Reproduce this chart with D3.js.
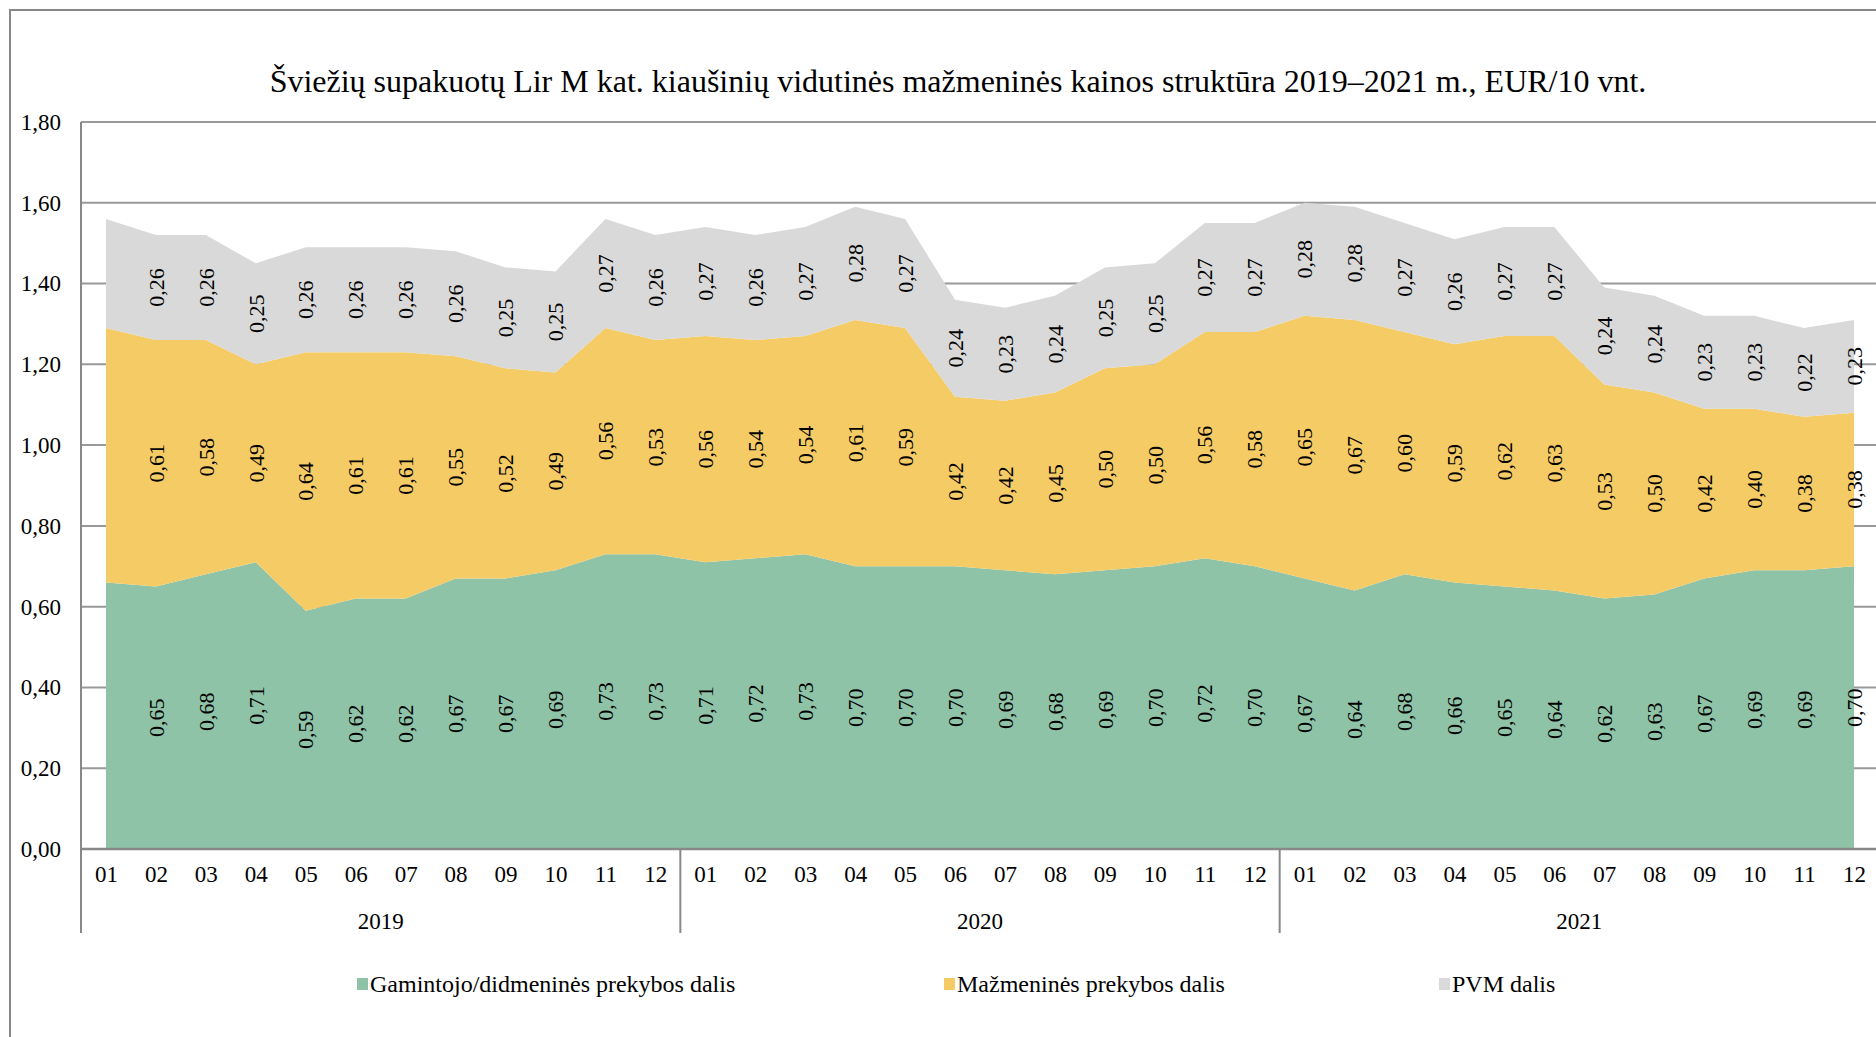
<!DOCTYPE html>
<html>
<head>
<meta charset="utf-8">
<script src="https://cdn.jsdelivr.net/npm/d3@7"></script>
<style>
  body { margin: 0; background: #fff; }
  text { font-family: "Liberation Serif", "Times New Roman", serif; fill: #000; }
</style>
</head>
<body>
<div id="chart"></div>
<script>
// values (EUR/10 vnt.)
var years = ["2019", "2020", "2021"];
var months = ["01", "02", "03", "04", "05", "06", "07", "08", "09", "10", "11", "12"];

var gamintojo = [0.66, 0.65, 0.68, 0.71, 0.59, 0.62, 0.62, 0.67, 0.67, 0.69, 0.73, 0.73,
                 0.71, 0.72, 0.73, 0.70, 0.70, 0.70, 0.69, 0.68, 0.69, 0.70, 0.72, 0.70,
                 0.67, 0.64, 0.68, 0.66, 0.65, 0.64, 0.62, 0.63, 0.67, 0.69, 0.69, 0.70];
var mazmenines = [0.63, 0.61, 0.58, 0.49, 0.64, 0.61, 0.61, 0.55, 0.52, 0.49, 0.56, 0.53,
                  0.56, 0.54, 0.54, 0.61, 0.59, 0.42, 0.42, 0.45, 0.50, 0.50, 0.56, 0.58,
                  0.65, 0.67, 0.60, 0.59, 0.62, 0.63, 0.53, 0.50, 0.42, 0.40, 0.38, 0.38];
var pvm = [0.27, 0.26, 0.26, 0.25, 0.26, 0.26, 0.26, 0.26, 0.25, 0.25, 0.27, 0.26,
           0.27, 0.26, 0.27, 0.28, 0.27, 0.24, 0.23, 0.24, 0.25, 0.25, 0.27, 0.27,
           0.28, 0.28, 0.27, 0.26, 0.27, 0.27, 0.24, 0.24, 0.23, 0.23, 0.22, 0.23];

var seriesNames = ["Gamintojo/didmeninės prekybos dalis", "Mažmeninės prekybos dalis", "PVM dalis"];
var seriesColors = ["#8fc3a8", "#f5cb66", "#d9d9d9"];
var yTicks = [0, 0.2, 0.4, 0.6, 0.8, 1.0, 1.2, 1.4, 1.6, 1.8];

function draw() {
    var W = 1876, H = 1037;
    var mLeft = 81, mRight = 1879, mTop = 122, mBottom = 849, sepBottom = 933;

    var data = [];
    for (var i = 0; i < gamintojo.length; i++) {
        data.push({i: i, a: gamintojo[i], b: mazmenines[i], c: pvm[i]});
    }

    var svg = d3.select("#chart").append("svg")
        .attr("width", W)
        .attr("height", H);

    var fmt = function (v) { return d3.format(".2f")(v).replace(".", ","); };

    var x = d3.scalePoint()
        .domain(d3.range(data.length))
        .range([mLeft, mRight])
        .padding(0.5);
    var step = x.step();

    var y = d3.scaleLinear()
        .domain([0, 1.8])
        .range([mBottom, mTop]);

    // outer frame
    svg.append("rect")
        .attr("x", 10).attr("y", 10)
        .attr("width", 1900).attr("height", 1100)
        .attr("fill", "none")
        .attr("stroke", "#888")
        .attr("stroke-width", 2);

    // title
    svg.append("text")
        .attr("x", 958)
        .attr("y", 92)
        .attr("text-anchor", "middle")
        .style("font-size", "32px")
        .text("Šviežių supakuotų Lir M kat. kiaušinių vidutinės mažmeninės kainos struktūra 2019–2021 m., EUR/10 vnt.");

    // gridlines
    svg.append("g")
        .selectAll("line")
        .data(yTicks.slice(1))
        .enter().append("line")
        .attr("x1", mLeft).attr("x2", mRight)
        .attr("y1", function (d) { return y(d); })
        .attr("y2", function (d) { return y(d); })
        .attr("stroke", "#999")
        .attr("stroke-width", 2);

    // stacked areas
    var stack = d3.stack().keys(["a", "b", "c"]);
    var layers = stack(data);

    var area = d3.area()
        .x(function (d) { return x(d.data.i); })
        .y0(function (d) { return y(d[0]); })
        .y1(function (d) { return y(d[1]); });

    svg.append("g")
        .selectAll("path")
        .data(layers)
        .enter().append("path")
        .attr("d", area)
        .attr("fill", function (d, i) { return seriesColors[i]; });

    // data labels (first month has none in the original)
    layers.forEach(function (layer) {
        svg.append("g")
            .selectAll("text")
            .data(layer.slice(1))
            .enter().append("text")
            .attr("transform", function (d) {
                return "translate(" + x(d.data.i) + "," + y((d[0] + d[1]) / 2) + ") rotate(-90)";
            })
            .attr("text-anchor", "middle")
            .attr("dy", "0.35em")
            .style("font-size", "22px")
            .text(function (d) { return fmt(d[1] - d[0]); });
    });

    // y axis
    var yAxis = d3.axisLeft(y)
        .tickValues(yTicks)
        .tickSize(0)
        .tickPadding(20)
        .tickFormat(fmt);
    var gy = svg.append("g")
        .attr("transform", "translate(" + mLeft + ",0)")
        .call(yAxis);
    gy.select(".domain").remove();
    gy.selectAll("text")
        .style("font-family", "Liberation Serif, serif")
        .style("font-size", "23px");

    // axis lines
    svg.append("line")
        .attr("x1", mLeft).attr("x2", mLeft)
        .attr("y1", mTop).attr("y2", sepBottom)
        .attr("stroke", "#888").attr("stroke-width", 2);
    svg.append("line")
        .attr("x1", mLeft).attr("x2", mRight)
        .attr("y1", mBottom).attr("y2", mBottom)
        .attr("stroke", "#888").attr("stroke-width", 2.5);

    // month labels
    var xAxis = d3.axisBottom(x)
        .tickSize(0)
        .tickPadding(17)
        .tickFormat(function (d) { return months[d % 12]; });
    var gx = svg.append("g")
        .attr("transform", "translate(0," + mBottom + ")")
        .call(xAxis);
    gx.select(".domain").remove();
    gx.selectAll("text")
        .style("font-family", "Liberation Serif, serif")
        .style("font-size", "23px");

    // year separators and labels
    years.forEach(function (yr, k) {
        var x0 = x(k * 12) - step / 2;
        var x1 = x(k * 12 + 11) + step / 2;
        svg.append("line")
            .attr("x1", x1).attr("x2", x1)
            .attr("y1", mBottom).attr("y2", sepBottom)
            .attr("stroke", "#888").attr("stroke-width", 2);
        svg.append("text")
            .attr("x", (x0 + x1) / 2)
            .attr("y", 929)
            .attr("text-anchor", "middle")
            .style("font-size", "23px")
            .text(yr);
    });

    // legend
    var legendX = [357, 944, 1439];
    var legend = svg.append("g")
        .selectAll("g")
        .data(seriesNames)
        .enter().append("g")
        .attr("transform", function (d, i) { return "translate(" + legendX[i] + ",984)"; });
    legend.append("rect")
        .attr("x", 0).attr("y", -6)
        .attr("width", 11).attr("height", 12)
        .attr("fill", function (d, i) { return seriesColors[i]; });
    legend.append("text")
        .attr("x", 13)
        .attr("y", 8)
        .style("font-size", "24px")
        .text(function (d) { return d; });
}

draw();
</script>
</body>
</html>
